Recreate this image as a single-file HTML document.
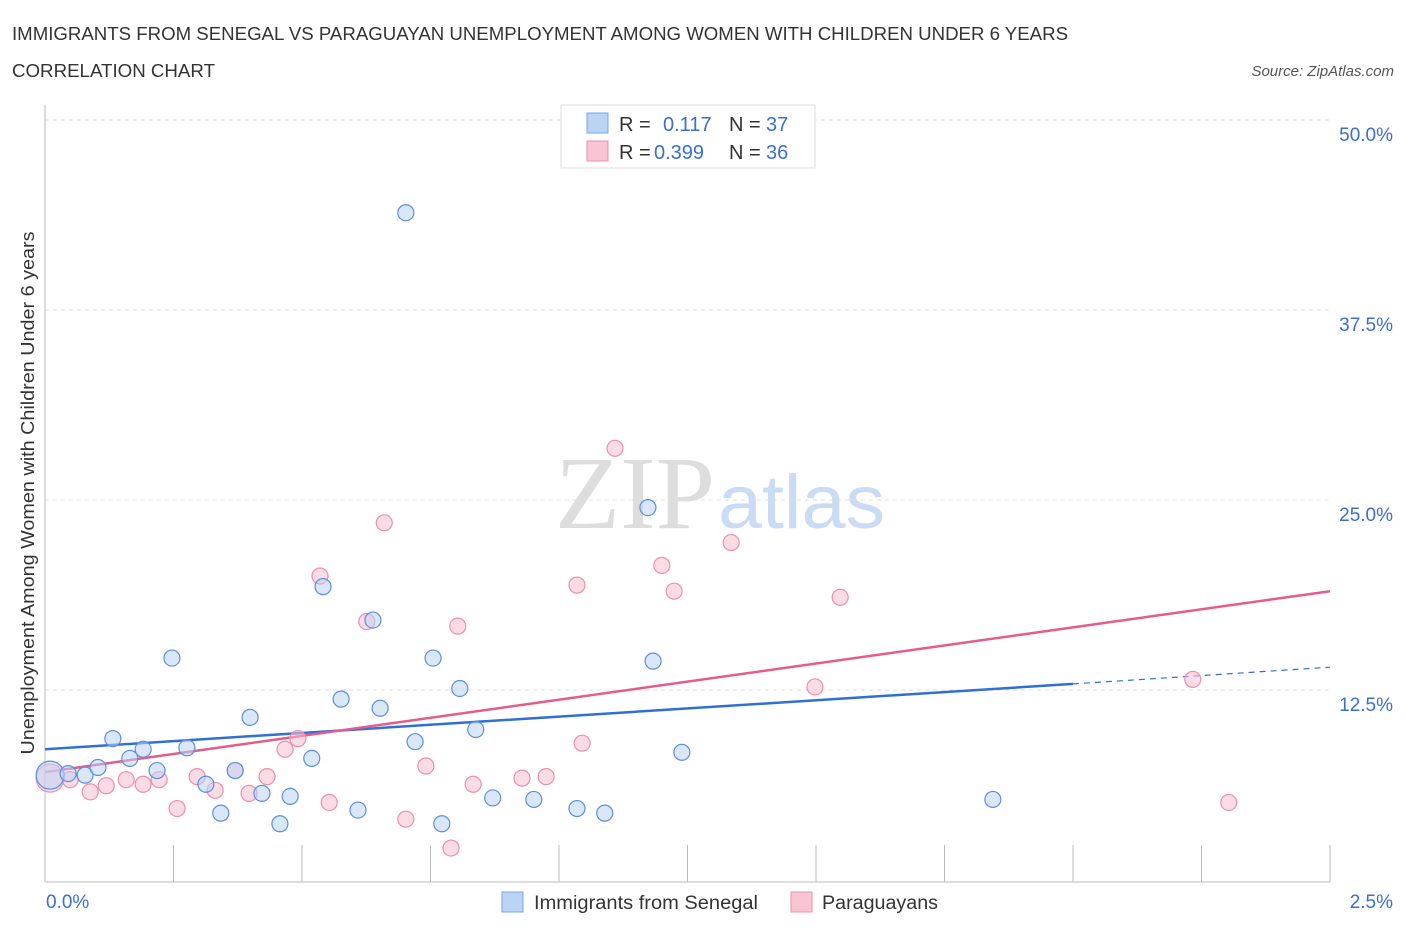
<!DOCTYPE html>
<html><head><meta charset="utf-8"><style>
body{margin:0;background:#fff;font-family:"Liberation Sans",sans-serif;}
svg{display:block}
</style></head><body>
<svg id="chart" width="1406" height="930" font-family="Liberation Sans, sans-serif">
<text x="12" y="40" font-size="18" fill="#333" textLength="1056" lengthAdjust="spacingAndGlyphs">IMMIGRANTS FROM SENEGAL VS PARAGUAYAN UNEMPLOYMENT AMONG WOMEN WITH CHILDREN UNDER 6 YEARS</text>
<text x="12" y="77" font-size="18" fill="#333" textLength="203" lengthAdjust="spacingAndGlyphs">CORRELATION CHART</text>
<text x="1394" y="76" font-size="15" fill="#555" font-style="italic" text-anchor="end">Source: ZipAtlas.com</text>
<text x="555" y="528" font-size="104" fill="#ddd" textLength="160" lengthAdjust="spacingAndGlyphs" font-family="Liberation Serif, serif">ZIP</text>
<text x="718" y="528" font-size="76" fill="#c9dcf3" textLength="167" lengthAdjust="spacingAndGlyphs">atlas</text>
<g id="grid"></g>
<g id="axes"></g>
<g id="lines"></g>
<g id="points"></g>
<text transform="translate(34,493) rotate(-90)" font-size="18" fill="#333" text-anchor="middle" textLength="523" lengthAdjust="spacingAndGlyphs">Unemployment Among Women with Children Under 6 years</text>
<g>
<rect x="561" y="105" width="254" height="63" fill="#fff" stroke="#ddd"/>
<rect x="587" y="113" width="21" height="20" fill="#bcd4f4" stroke="#7aa6e6"/>
<rect x="587" y="141" width="21" height="20" fill="#f9c5d5" stroke="#ec8fae"/>
<text x="619" y="131" font-size="20" fill="#333">R =</text>
<text x="663" y="131" font-size="20" fill="#3a6fd0">0.117</text>
<text x="729" y="131" font-size="20" fill="#333">N =</text>
<text x="766" y="131" font-size="20" fill="#3a6fd0">37</text>
<text x="619" y="159" font-size="20" fill="#333">R =</text>
<text x="654" y="159" font-size="20" fill="#3a6fd0">0.399</text>
<text x="729" y="159" font-size="20" fill="#333">N =</text>
<text x="766" y="159" font-size="20" fill="#3a6fd0">36</text>
</g>
<g>
<rect x="502" y="892" width="21" height="20" fill="#bcd4f4" stroke="#7aa6e6"/>
<text x="534" y="909" font-size="19" fill="#333" textLength="224" lengthAdjust="spacingAndGlyphs">Immigrants from Senegal</text>
<rect x="791" y="892" width="21" height="20" fill="#f9c5d5" stroke="#ec8fae"/>
<text x="822" y="909" font-size="19" fill="#333" textLength="116" lengthAdjust="spacingAndGlyphs">Paraguayans</text>
</g>
</svg>
<script>
const yTicks=[12.5,25,37.5,50];
const yTickLabels=["12.5%","25.0%","37.5%","50.0%"];
const xTickLabels=["0.0%","2.5%"];
const blueX=[0.010,0.045,0.078,0.103,0.132,0.165,0.191,0.218,0.247,0.276,0.313,0.342,0.370,0.399,0.422,0.457,0.477,0.519,0.576,0.609,0.638,0.652,0.702,0.720,0.755,0.772,0.807,0.838,0.871,0.951,1.035,1.089,1.173,1.183,1.239,1.844,0.541];
const blueY=[6.9,7.0,6.9,7.4,9.3,8.0,8.6,7.2,14.6,8.7,6.3,4.4,7.2,10.7,5.7,3.7,5.5,8.0,11.9,4.6,17.1,11.3,43.9,9.1,14.6,3.7,12.6,9.9,5.4,5.3,4.7,4.4,24.5,14.4,8.4,5.3,19.3];
const pinkX=[0.010,0.049,0.088,0.119,0.158,0.191,0.222,0.257,0.296,0.331,0.370,0.397,0.432,0.467,0.492,0.535,0.553,0.626,0.660,0.702,0.741,0.790,0.803,0.833,0.928,0.975,1.035,1.045,1.109,1.200,1.224,1.335,1.498,1.547,2.233,2.303];
const pinkY=[6.7,6.6,5.8,6.2,6.6,6.3,6.6,4.7,6.8,5.9,7.2,5.7,6.8,8.6,9.3,20.0,5.1,17.0,23.5,4.0,7.5,2.1,16.7,6.3,6.7,6.8,19.4,9.0,28.4,20.7,19.0,22.2,12.7,18.6,13.2,5.1];
const blueTrend=[[0,8.6],[2.0,12.9],[2.5,14.0]];
const pinkTrend=[[0,7.1],[2.5,19.0]];
const NS='http://www.w3.org/2000/svg';
const sx=v=>45+v/2.5*1285;
const sy=v=>880-v/50*760;
function mk(tag,attrs,parent){const e=document.createElementNS(NS,tag);for(const k in attrs)e.setAttribute(k,attrs[k]);parent.appendChild(e);return e;}
const grid=document.getElementById('grid'),axes=document.getElementById('axes'),lines=document.getElementById('lines'),pts=document.getElementById('points');
yTicks.forEach((t,i)=>{
  const l=mk('line',{x1:45,x2:1330,y1:sy(t),y2:sy(t),stroke:'#ddd','stroke-dasharray':'4,4'},grid);
  
  
  const tx=mk('text',{x:1393,y:sy(t)+21,'font-size':19,fill:'#3a6fd0','text-anchor':'end'},axes);
  tx.textContent=yTickLabels[i];
  
  
});
let a=mk('line',{x1:45,x2:45,y1:105,y2:882,stroke:'#bbb'},axes);


a=mk('line',{x1:45,x2:1330,y1:882,y2:882,stroke:'#bbb'},axes);


for(let i=1;i<=10;i++){const x=45+i*128.5;const t=mk('line',{x1:x,x2:x,y1:845,y2:882,stroke:'#bbb'},axes);

}
let xl=mk('text',{x:46,y:908,'font-size':19,fill:'#3a6fd0'},axes);xl.textContent=xTickLabels[0];


xl=mk('text',{x:1393,y:908,'font-size':19,fill:'#3a6fd0','text-anchor':'end'},axes);xl.textContent=xTickLabels[1];


function drawPts(X,Y,fill,stroke,name){X.forEach((x,i)=>{const c=mk('circle',{cx:sx(x),cy:sy(Y[i]),r:i===0?14:8,fill:fill,'fill-opacity':0.55,stroke:stroke,'stroke-width':1.2},pts);

});}
drawPts(pinkX,pinkY,'#f7bfd0','#ec8fae','paraguayan-point');
drawPts(blueX,blueY,'#bcd4f4','#5b8fe0','senegal-point');
let ln=mk('line',{x1:sx(blueTrend[0][0]),y1:sy(blueTrend[0][1]),x2:sx(blueTrend[1][0]),y2:sy(blueTrend[1][1]),stroke:'#2f6fd6','stroke-width':2.5},lines);


ln=mk('line',{x1:sx(blueTrend[1][0]),y1:sy(blueTrend[1][1]),x2:sx(blueTrend[2][0]),y2:sy(blueTrend[2][1]),stroke:'#2f6fd6','stroke-width':1.2,'stroke-dasharray':'6,5'},lines);


ln=mk('line',{x1:sx(pinkTrend[0][0]),y1:sy(pinkTrend[0][1]),x2:sx(pinkTrend[1][0]),y2:sy(pinkTrend[1][1]),stroke:'#e55c8a','stroke-width':2.5},lines);


</script>
</body></html>
